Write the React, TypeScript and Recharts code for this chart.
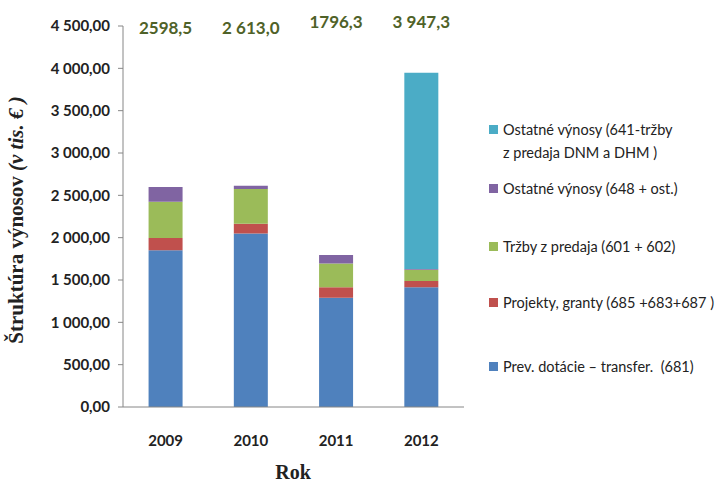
import React from 'react';
import { BarChart, Bar, XAxis, YAxis, LabelList } from 'recharts';

// --- DATA ---
const years = ['2009', '2010', '2011', '2012'];
const dotacie = [1850, 2050, 1290, 1415];
const projekty = [145, 113, 125, 72];
const trzby = [428, 413, 280, 135];
const ostatne648 = [175.5, 37, 101.3, 8];
const ostatne641 = [0, 0, 0, 2317.3];
const totals = ['2598,5', '2 613,0', '1796,3', '3 947,3'];
const yTicks = [0, 500, 1000, 1500, 2000, 2500, 3000, 3500, 4000, 4500];

const series = [
  { key: 'dotacie', name: 'Prev. dotácie – transfer.  (681)', color: '#4f81bd' },
  { key: 'projekty', name: 'Projekty, granty (685 +683+687 )', color: '#c0504d' },
  { key: 'trzby', name: 'Tržby z predaja (601 + 602)', color: '#9bbb59' },
  { key: 'ost648', name: 'Ostatné výnosy (648 + ost.)', color: '#8064a2' },
  { key: 'ost641', name: 'Ostatné výnosy (641-tržby|z predaja DNM a DHM )', color: '#4bacc6' },
];

const chartData = years.map((y, i) => ({
  year: y,
  dotacie: dotacie[i],
  projekty: projekty[i],
  trzby: trzby[i],
  ost648: ostatne648[i],
  ost641: ostatne641[i],
}));

const FONT = 'Lato, "Open Sans", sans-serif';
const fmt = (v: number) => {
  const s = v.toFixed(2).replace('.', ',');
  const [int, dec] = s.split(',');
  const spaced = int.length > 3 ? int.slice(0, -3) + ' ' + int.slice(-3) : int;
  return `${spaced},${dec}`;
};

// legend top-to-bottom y positions (reverse of stack)
const legendY = [130, 189, 247, 303, 367];

const CustomLegend = () => {
  const items = [...series].reverse();
  return (
    <div style={{ position: 'absolute', left: 489, top: 0, width: 235, height: 485, fontFamily: FONT, fontSize: 14.5, color: '#222' }}>
      {items.map((s, i) => {
        const lines = s.name.split('|');
        return (
          <div key={s.key} style={{ position: 'absolute', left: 0, top: legendY[i] - 12, display: 'flex', alignItems: 'flex-start' }}>
            <span style={{ width: 9, height: 9, background: s.color, marginTop: 7, marginRight: 5, flex: 'none' }} />
            <span style={{ lineHeight: '23px', whiteSpace: 'pre' }}>
              {lines.map((l, j) => <div key={j}>{l}</div>)}
            </span>
          </div>
        );
      })}
    </div>
  );
};

const labelY = [30, 30, 24, 24];

const TotalLabel = (props: any) => {
  const { x, width, index } = props;
  return (
    <text x={x + width / 2} y={labelY[index]} textAnchor="middle" dominantBaseline="middle"
      fill="#4f6228" fontSize={17} fontWeight={700} fontFamily={FONT}>
      {totals[index]}
    </text>
  );
};

export default function App() {
  return (
    <div style={{ position: 'absolute', left: 0, top: 0, width: 720, height: 485, background: '#fff' }}>
      <BarChart width={720} height={485} data={chartData}
        margin={{ top: 26, right: 256, left: 43, bottom: 48 }} barCategoryGap="30%">
        <XAxis dataKey="year" axisLine={{ stroke: '#868686' }} tickLine={false} height={30}
          tickMargin={22} tick={{ fontSize: 15, fontWeight: 700, fill: '#222', fontFamily: FONT }} />
        <YAxis domain={[0, 4500]} ticks={yTicks} interval={0} width={80} tickFormatter={fmt}
          axisLine={{ stroke: '#868686' }} tickLine={{ stroke: '#868686' }} tickSize={5} tickMargin={8}
          tick={{ fontSize: 15, fontWeight: 700, fill: '#222', fontFamily: FONT }} />
        {series.map((s) => (
          <Bar key={s.key} dataKey={s.key} name={s.name} stackId="a" fill={s.color} isAnimationActive={false}>
            {s.key === 'dotacie' ? <LabelList dataKey="dotacie" content={<TotalLabel />} /> : null}
          </Bar>
        ))}
      </BarChart>
      <CustomLegend />
      <div style={{ position: 'absolute', left: 0, top: 0, width: 720, height: 485, pointerEvents: 'none' }}>
        <svg width={720} height={485}>
          <text transform="translate(23,220) rotate(-90)" textAnchor="middle" fontFamily='"Liberation Serif", serif'
            fontSize={21} fontWeight={700} fill="#222">
            Štruktúra výnosov <tspan fontStyle="italic">(v tis. € )</tspan>
          </text>
          <text x={293} y={479} textAnchor="middle" fontFamily='"Liberation Serif", serif' fontSize={20} fontWeight={700} fill="#222">
            Rok
          </text>
        </svg>
      </div>
    </div>
  );
}
